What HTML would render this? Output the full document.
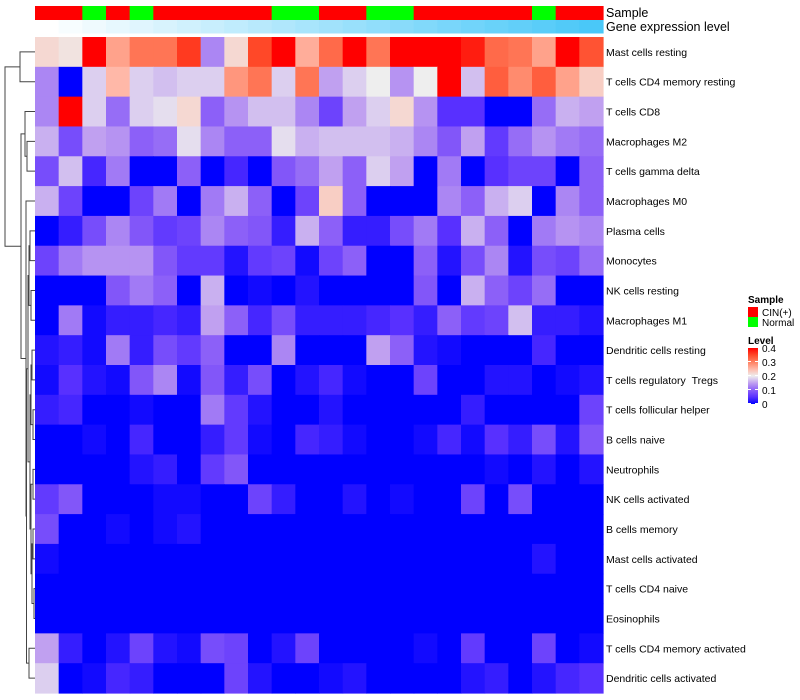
<!DOCTYPE html>
<html><head><meta charset="utf-8"><style>
body{margin:0;background:#fff;}
svg{display:block;font-family:"Liberation Sans",sans-serif;}
</style></head><body>
<svg id="chart" width="800" height="700"></svg>
<script>
const rowLabels=["Mast cells resting","T cells CD4 memory resting","T cells CD8","Macrophages M2","T cells gamma delta","Macrophages M0","Plasma cells","Monocytes","NK cells resting","Macrophages M1","Dendritic cells resting","T cells regulatory\u00a0\u00a0Tregs","T cells follicular helper","B cells naive","Neutrophils","NK cells activated","B cells memory","Mast cells activated","T cells CD4 naive","Eosinophils","T cells CD4 memory activated","Dendritic cells activated"];
const sampleGroups=["CIN","CIN","Normal","CIN","Normal","CIN","CIN","CIN","CIN","CIN","Normal","Normal","CIN","CIN","Normal","Normal","CIN","CIN","CIN","CIN","CIN","Normal","CIN","CIN"];
const geneExpr=[0,1,2,3,4,5,6,7,8,9,10,11,12,13,14,15,16,17,18,19,20,21,22,23];
const r1=[.22,.21,.4,.27,.31,.31,.36,.13,.22,.35,.4,.26,.32,.4,.31,.4,.4,.4,.38,.32,.31,.27,.4,.34];
const r2=[.13,0,.18,.25,.18,.17,.18,.18,.28,.31,.18,.31,.15,.18,.2,.14,.2,.4,.17,.33,.29,.33,.27,.23];
const r3=[.13,.4,.18,.11,.18,.19,.22,.1,.14,.17,.17,.13,.07,.15,.18,.22,.14,.05,.05,0,0,.11,.16,.15];
const r4=[.16,.08,.15,.14,.1,.11,.19,.13,.1,.1,.19,.16,.17,.17,.17,.16,.13,.09,.15,.06,.11,.14,.12,.11];
const r5=[.08,.17,.04,.12,0,0,.1,0,.04,0,.09,.11,.15,.1,.18,.15,0,.12,0,.05,.07,.07,0,.1];
const r6=[.16,.07,0,0,.07,.12,0,.12,.16,.1,0,.07,.23,.1,0,0,0,.13,.1,.16,.18,0,.13,.1];
const r7=[0,.03,.08,.13,.09,.06,.07,.13,.1,.09,.03,.16,.1,.03,.03,.08,.12,.05,.16,.1,0,.12,.14,.13];
const r8=[.07,.12,.14,.14,.14,.09,.06,.06,.02,.06,.07,.01,.07,.1,0,0,.1,.02,.08,.13,.02,.08,.07,.11];
const r9=[0,0,0,.09,.12,.1,0,.16,0,.01,0,.02,0,0,0,0,.09,0,.16,.1,.07,.11,0,0];
const r10=[0,.12,.01,.03,.03,.04,.03,.15,.1,.04,.08,.03,.03,.03,.04,.05,.03,.1,.06,.07,.17,.03,.03,.02];
const r11=[.02,.03,.01,.12,.03,.08,.06,.1,0,0,.13,0,0,0,.15,.1,.02,.01,0,0,0,.04,0,0];
const r12=[.01,.05,.02,.01,.09,.13,.01,.09,.03,.08,0,.02,.04,.01,0,0,.07,0,0,.02,.02,0,.01,.02];
const r13=[.03,.04,0,0,.01,0,0,.12,.06,.02,0,0,.02,0,0,0,0,0,.03,0,0,0,0,.07];
const r14=[0,0,.01,0,.04,0,0,.03,.06,.01,0,.04,.03,.01,0,0,.01,.04,.01,.05,.03,.08,.02,.09];
const r15=[0,0,0,0,.02,.03,0,.06,.09,0,0,0,0,0,0,0,0,0,0,.01,0,.02,0,.02];
const r16=[.06,.09,0,0,0,.01,.01,0,0,.07,.03,0,0,.02,0,.01,0,0,.07,0,.08,0,0,0];
const r17=[.08,0,0,.01,0,.01,.02,0,0,0,0,0,0,0,0,0,0,0,0,0,0,0,0,0];
const r18=[.01,0,0,0,0,0,0,0,0,0,0,0,0,0,0,0,0,0,0,0,0,.02,0,0];
const r19=[0,0,0,0,0,0,0,0,0,0,0,0,0,0,0,0,0,0,0,0,0,0,0,0];
const r20=[0,0,0,0,0,0,0,0,0,0,0,0,0,0,0,0,0,0,0,0,0,0,0,0];
const r21=[.15,.03,0,.02,.07,.02,.01,.08,.07,0,.02,.07,0,0,0,0,.01,0,.06,0,0,.07,0,.01];
const r22=[.18,0,.01,.04,.03,0,0,0,.07,.02,0,0,.01,.02,0,0,0,0,.02,.03,0,.02,.04,.05];
const values=[r1,r2,r3,r4,r5,r6,r7,r8,r9,r10,r11,r12,r13,r14,r15,r16,r17,r18,r19,r20,r21,r22];
const legendTicks=["0","0.1","0.2","0.3","0.4"];

const NS="http://www.w3.org/2000/svg";
const svg=document.getElementById('chart');
function mk(tag,attrs,parent){const e=document.createElementNS(NS,tag);for(const k in attrs)e.setAttribute(k,attrs[k]);(parent||svg).appendChild(e);return e;}
const X0=35,X1=603,Y0=37,Y1=693;
const nC=values[0].length,nR=values.length;
const cw=(X1-X0)/nC,rh=(Y1-Y0)/nR;
const xs=c=>X0+c*cw, ys=r=>Y0+r*rh;
const stops=[[0,[0,0,255]],[.05,[88,48,255]],[.1,[140,96,248]],[.15,[192,160,240]],[.2,[238,238,238]],[.25,[255,184,168]],[.3,[255,128,96]],[.35,[255,72,40]],[.4,[255,0,0]]];
function colorOf(v){v=Math.max(0,Math.min(.4,v));for(let i=1;i<stops.length;i++){if(v<=stops[i][0]){const a=stops[i-1],b=stops[i];const t=(v-a[0])/(b[0]-a[0]);const c=a[1].map((q,j)=>Math.round(q+(b[1][j]-q)*t));return `rgb(${c})`;}}return 'rgb(255,0,0)';}

const gMap=mk('g',{});

values.forEach((row,r)=>row.forEach((v,c)=>{
  const e=mk('rect',{x:xs(c),y:ys(r),width:cw+0.6,height:rh+0.6,fill:colorOf(v)},gMap);
  
  
}));
const gmin=Math.min(...geneExpr),gmax=Math.max(...geneExpr);
sampleGroups.forEach((s,c)=>{
  const e=mk('rect',{x:xs(c),y:6,width:cw+0.6,height:14,fill:s==="CIN"?"#FF0000":"#00FF00"});
  
  
  const t=(geneExpr[c]-gmin)/(gmax-gmin);
  const col=[255+(74-255)*t,255+(200-255)*t,255+(248-255)*t].map(Math.round);
  const g=mk('rect',{x:xs(c),y:20,width:cw+0.6,height:13.5,fill:`rgb(${col})`});
  
  
});
let t=mk('text',{x:606,y:17,'font-size':12.5,fill:'#000'});t.textContent='Sample';

t=mk('text',{x:606,y:31,'font-size':12.5,fill:'#000'});t.textContent='Gene expression level';

rowLabels.forEach((l,r)=>{
  const e=mk('text',{x:606,y:ys(r)+rh/2+4,'font-size':10.5,fill:'#000'});e.textContent=l;
  
  
});
const cy=r=>ys(r)+rh/2;
function node(a,b,x){return {y:(a.y+b.y)/2,x:x,a:a,b:b};}
const L=i=>({y:cy(i),x:35});
const A=node(L(0),L(1),20);
const B=node(L(2),node(L(3),L(4),27),25);
const D3=node(node(L(6),L(7),30),node(L(8),L(9),31),29);
const D6=node(node(L(10),L(11),32),node(L(12),L(13),33),31);
const D11=node(node(L(14),L(15),33),node(node(L(16),L(17),33),node(L(18),L(19),34),32),31);
const D13=node(D3,node(D6,D11,30),28);
const D15=node(D13,node(L(20),L(21),29),26.5);
const C=node(L(5),D15,26);
const root=node(A,node(B,C,21),5);
const gD=mk('g',{stroke:'#444','stroke-width':1,fill:'none'});

function draw(n){if(!n.a)return;mk('path',{d:`M${n.a.x},${n.a.y}H${n.x}V${n.b.y}H${n.b.x}`},gD);draw(n.a);draw(n.b);}
draw(root);
t=mk('text',{x:748,y:303,'font-size':10,'font-weight':'bold'});t.textContent='Sample';

[["CIN(+)","#FF0000"],["Normal","#00FF00"]].forEach((d,i)=>{
  const r=mk('rect',{x:748,y:307+i*10,width:10,height:10,fill:d[1]});
  
  const e=mk('text',{x:762,y:316+i*10,'font-size':10});e.textContent=d[0];
  
});
t=mk('text',{x:748,y:344,'font-size':10,'font-weight':'bold'});t.textContent='Level';

const defs=mk('defs',{});const lg=mk('linearGradient',{id:'lv',x1:0,y1:1,x2:0,y2:0},defs);
stops.forEach(s=>mk('stop',{offset:s[0]/.4,'stop-color':`rgb(${s[1]})`},lg));
const cb=mk('rect',{x:748,y:348,width:10,height:56,fill:'url(#lv)'});

legendTicks.forEach((s,i)=>{
  const y=404-i*14;
  mk('line',{x1:748,x2:751,y1:y-0.5,y2:y-0.5,stroke:'#fff'});
  mk('line',{x1:755,x2:758,y1:y-0.5,y2:y-0.5,stroke:'#fff'});
  const e=mk('text',{x:762,y:y+4,'font-size':10});e.textContent=s;
  
});
</script>
</body></html>
